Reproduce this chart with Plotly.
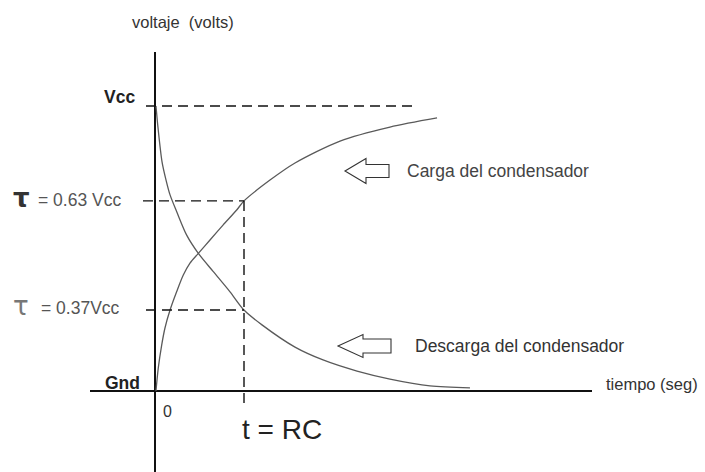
import plotly.graph_objects as go

# ---------------- data (time in units of RC, voltage in units of Vcc) ----------------
charge_t = [0.011, 0.037, 0.075, 0.112, 0.169, 0.244, 0.318, 0.393, 0.487, 0.618, 0.764, 0.918, 1.000,
            1.292, 1.573, 2.079, 2.640, 3.169]
charge_v = [0.000, 0.081, 0.161, 0.221, 0.284, 0.349, 0.407, 0.449, 0.483, 0.530, 0.582, 0.635, 0.667,
            0.740, 0.800, 0.877, 0.926, 0.958]

discharge_t = [0.011, 0.034, 0.079, 0.124, 0.169, 0.244, 0.356, 0.487, 0.655, 0.843, 1.000,
               1.202, 1.573, 1.888, 2.270, 2.640, 3.090, 3.539]
discharge_v = [1.000, 0.923, 0.804, 0.740, 0.688, 0.629, 0.547, 0.483, 0.419, 0.348, 0.284,
               0.232, 0.154, 0.109, 0.070, 0.042, 0.018, 0.011]

level_values = [1.0, 0.667, 0.284]   # Vcc, 0.63 Vcc, 0.37 Vcc marks as drawn
rc_time = 1.0

# ---------------- layout helpers (page pixel -> data / paper for decorations) ----------------
W, H = 705, 472
PL, PR, PT, PB = 90, 592, 52, 472         # plot area in page pixels
X0_PX, RC_PX = 155, 89                    # t=0 pixel, pixels per RC
Y0_PX, VCC_PX = 391, 285                  # v=0 pixel, pixels per Vcc


def X(px):
    return (px - X0_PX) / RC_PX


def Y(py):
    return (Y0_PX - py) / VCC_PX


def PX(px):
    return (px - PL) / (PR - PL)


def PY(py):
    return (PB - py) / (PB - PT)


xr = [X(PL), X(PR)]
yr = [Y(PB), Y(PT)]

CURVE = dict(color="#5a5a5a", width=1.3)
DASH = dict(color="#111111", width=1.4, dash="10px,6px")
FONT = "Liberation Sans, Arial, sans-serif"

fig = go.Figure()
fig.add_trace(go.Scatter(x=charge_t, y=charge_v, mode="lines",
                         line=dict(shape="spline", smoothing=0.8, **CURVE),
                         hoverinfo="skip", showlegend=False))
fig.add_trace(go.Scatter(x=discharge_t, y=discharge_v, mode="lines",
                         line=dict(shape="spline", smoothing=0.8, **CURVE),
                         hoverinfo="skip", showlegend=False))

shapes = []
dash_starts = [X(146), X(143), X(146)]
dash_ends = [X(415), rc_time, rc_time]
for v, xs, xe in zip(level_values, dash_starts, dash_ends):
    shapes.append(dict(type="line", xref="x", yref="y", x0=xs, x1=xe, y0=v, y1=v, line=DASH))
shapes.append(dict(type="line", xref="x", yref="y", x0=rc_time, x1=rc_time,
                   y0=level_values[1], y1=Y(403), line=DASH))


def arrow(tip_x, cy, head_back, head_h, shaft_h, tail_x):
    pts = [(tip_x, cy), (head_back, cy - head_h), (head_back, cy - shaft_h), (tail_x, cy - shaft_h),
           (tail_x, cy + shaft_h), (head_back, cy + shaft_h), (head_back, cy + head_h)]
    path = "M " + " L ".join(f"{X(a):.4f},{Y(b):.4f}" for a, b in pts) + " Z"
    return dict(type="path", xref="x", yref="y", path=path,
                line=dict(color="#333333", width=1.1), fillcolor="white")


shapes.append(arrow(345, 171, 366, 12.5, 6.5, 389))
shapes.append(arrow(338, 346, 363, 11.5, 7, 391))


def ann(text, px, py, size, color="#444444", anchor="left", family=FONT):
    return dict(text=text, x=PX(px), y=PY(py), xref="paper", yref="paper", showarrow=False,
                xanchor=anchor, yanchor="middle", font=dict(family=family, size=size, color=color))


annotations = [
    ann("voltaje  (volts)", 183, 22, 16.5, "#333333", "center"),
    ann("<b>Vcc</b>", 102, 97, 17.5, "#222222"),
    ann("<b>τ</b>", 11, 198, 26, "#333333", family="DejaVu Sans, sans-serif"),
    ann("= 0.63 Vcc", 36, 200, 17.5, "#555555"),
    ann("τ", 11, 306, 26, "#777777", family="DejaVu Sans, sans-serif"),
    ann("= 0.37Vcc", 39, 308, 17.5, "#555555"),
    ann("<b>Gnd</b>", 103, 383, 17.5, "#222222"),
    ann("0", 161, 411, 16, "#333333"),
    ann("t = RC", 240, 429, 28, "#222222"),
    ann("Carga del condensador", 405, 171, 17.5, "#444444"),
    ann("Descarga del condensador", 413, 346, 17.5, "#333333"),
    ann("tiempo (seg)", 604, 384, 16.5, "#333333"),
]

fig.update_layout(
    width=W, height=H,
    margin=dict(l=PL, r=W - PR, t=PT, b=H - PB, pad=0),
    paper_bgcolor="white", plot_bgcolor="white",
    xaxis=dict(range=xr, showgrid=False, showticklabels=False, ticks="", showline=False,
               zeroline=True, zerolinecolor="#111111", zerolinewidth=1.5, fixedrange=True),
    yaxis=dict(range=yr, showgrid=False, showticklabels=False, ticks="", showline=False,
               zeroline=True, zerolinecolor="#111111", zerolinewidth=1.5, fixedrange=True),
    shapes=shapes,
    annotations=annotations,
    showlegend=False,
)

fig.write_html(
    "out.html",
    config={"displayModeBar": False},
    post_script="document.body.style.margin='0';document.body.style.overflow='hidden';",
)
